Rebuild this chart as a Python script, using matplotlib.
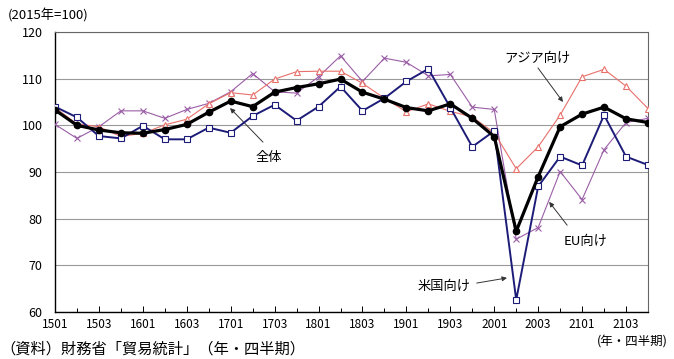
import numpy as np
import matplotlib
matplotlib.use('Agg')
import matplotlib.pyplot as plt

plt.rcParams['font.family'] = ['Noto Sans CJK JP', 'DejaVu Sans']

# quarterly export volume index, 2015=100
quarters = ['1501', '1502', '1503', '1504', '1601', '1602', '1603', '1604',
            '1701', '1702', '1703', '1704', '1801', '1802', '1803', '1804',
            '1901', '1902', '1903', '1904', '2001', '2002', '2003', '2004',
            '2101', '2102', '2103', '2104']
total = [103.3, 100.0, 99.0, 98.4, 98.3, 99.1, 100.2, 102.8, 105.2, 104.0,
         107.1, 108.1, 108.9, 109.9, 107.1, 105.6, 103.8, 103.1, 104.6, 101.5,
         97.6, 77.3, 89.0, 99.7, 102.4, 103.9, 101.4, 100.6]
asia = [103.8, 100.3, 99.7, 97.6, 98.3, 100.1, 101.3, 104.6, 107.0, 106.5,
        109.9, 111.5, 111.6, 111.6, 109.0, 105.8, 102.9, 104.6, 103.0, 101.8,
        98.4, 90.7, 95.4, 102.2, 110.4, 112.0, 108.4, 103.6]
eu = [100.2, 97.2, 99.7, 103.1, 103.1, 101.5, 103.4, 104.7, 107.2, 111.1,
      107.2, 106.9, 110.4, 114.9, 109.4, 114.4, 113.5, 110.6, 110.9, 103.9,
      103.4, 75.6, 78.1, 90.1, 84.1, 94.8, 100.6, 101.5]
us = [104.0, 101.7, 97.7, 97.2, 99.9, 97.0, 97.0, 99.5, 98.4, 102.0,
      104.4, 101.0, 104.0, 108.3, 103.1, 105.8, 109.4, 112.1, 103.8, 95.4,
      98.8, 62.6, 86.9, 93.3, 91.4, 102.2, 93.3, 91.5]

x = np.arange(len(quarters))

fig = plt.figure(figsize=(6.74, 3.59), dpi=100)
ax = fig.add_axes([0.0816, 0.1309, 0.8798, 0.78])

ax.plot(x, eu, color='#9A5EA6', lw=0.8, marker='x', ms=4.5, mew=0.8, zorder=3)
ax.plot(x, asia, color='#E8706A', lw=0.8, marker='^', ms=4.5, mfc='white',
        mec='#E8706A', mew=0.8, zorder=3)
ax.plot(x, us, color='#1C1C78', lw=1.4, marker='s', ms=4.3, mfc='white',
        mec='#1C1C78', mew=0.8, zorder=4)
ax.plot(x, total, color='black', lw=2.3, marker='o', ms=4.5, zorder=5)

ax.set_xlim(0, 27)
ax.set_ylim(60, 120)
ax.set_yticks([60, 70, 80, 90, 100, 110, 120])
ax.set_xticks(x[::2])
ax.set_xticklabels(quarters[::2])
ax.set_xticks(x, minor=True)
ax.tick_params(axis='x', which='both', direction='in', length=3, width=0.7,
               labelsize=8.5, pad=4)
ax.tick_params(axis='x', which='major', length=4)
ax.tick_params(axis='y', length=0, labelsize=9, pad=9)
ax.grid(axis='y', color='#999999', lw=0.8)
ax.set_axisbelow(True)
for s in ['top', 'right']:
    ax.spines[s].set_color('#666666')
    ax.spines[s].set_linewidth(0.8)
for s in ['left', 'bottom']:
    ax.spines[s].set_linewidth(1.0)

arrow = dict(arrowstyle='-|>', color='#333333', lw=0.7,
             mutation_scale=7, shrinkA=0, shrinkB=0)
ax.annotate('', xy=(7.97, 103.7), xytext=(9.47, 96.4), arrowprops=arrow)
ax.text(9.74, 93.2, '全体', ha='center', va='center', fontsize=9.5)
ax.annotate('', xy=(23.13, 105.0), xytext=(21.99, 112.3), arrowprops=arrow)
ax.text(21.95, 114.4, 'アジア向け', ha='center', va='center', fontsize=9.5)
ax.annotate('', xy=(22.5, 83.6), xytext=(23.32, 78.6), arrowprops=arrow)
ax.text(24.18, 75.2, 'EU向け', ha='center', va='center', fontsize=9.5)
ax.annotate('', xy=(20.58, 67.3), xytext=(19.2, 66.2), arrowprops=arrow)
ax.text(17.71, 65.6, '米国向け', ha='center', va='center', fontsize=9.5)

fig.text(8 / 674, 1 - 15 / 359, '(2015年=100)', ha='left', va='center', fontsize=9.5)
fig.text(668 / 674, 1 - 342 / 359, '(年・四半期)', ha='right', va='center', fontsize=9)
fig.text(0.0, 0.004, '（資料）財務省「貿易統計」（年・四半期）', ha='left', va='bottom',
         fontsize=11)

fig.savefig('out.png', dpi=100, facecolor='white')
